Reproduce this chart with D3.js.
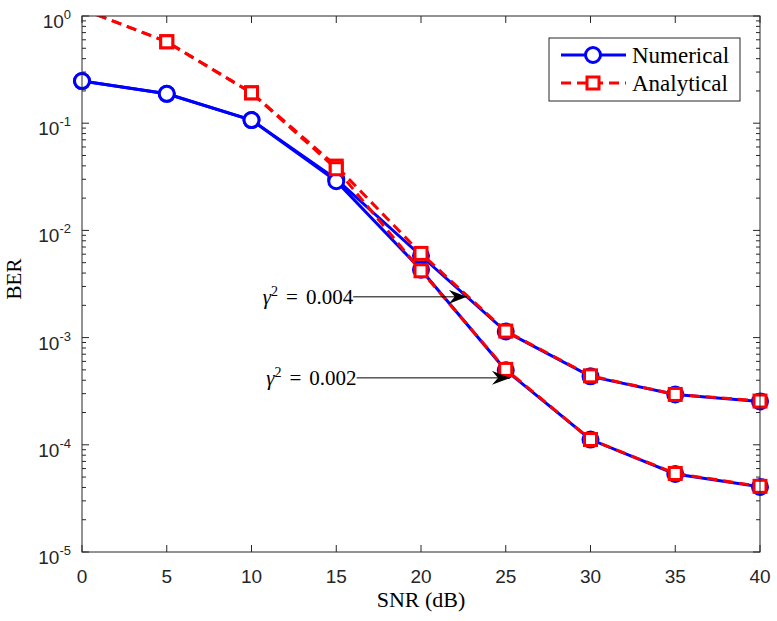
<!DOCTYPE html>
<html>
<head>
<meta charset="utf-8">
<script src="https://cdn.jsdelivr.net/npm/d3@7"></script>
<style>
  body { margin: 0; background: #fff; }
  svg { display: block; }
  .tick-label { font-family: "Liberation Sans", Arial, sans-serif; fill: #262626; }
  .tex { font-family: "Liberation Serif", "Times New Roman", serif; fill: #000; }
</style>
</head>
<body>
<svg id="chart" width="777" height="621"></svg>
<script>
'use strict';

// SNR (dB) sample points
var snr = [0, 5, 10, 15, 20, 25, 30, 35, 40];

// BER, gamma^2 = 0.004
var numerical004 = [0.247, 0.188, 0.107, 0.0301, 0.0058, 0.00114, 0.000435, 0.000295, 0.000254];
var analytical004 = [1.16, 0.575, 0.192, 0.0398, 0.0061, 0.00115, 0.00044, 0.000295, 0.000256];

// BER, gamma^2 = 0.002
var numerical002 = [0.247, 0.188, 0.107, 0.0288, 0.0043, 0.000495, 0.000112, 0.0000535, 0.0000405];
var analytical002 = [1.16, 0.575, 0.192, 0.0376, 0.0042, 0.000505, 0.000112, 0.000054, 0.000041];

var xTicks = [0, 5, 10, 15, 20, 25, 30, 35, 40];
var yExponents = [0, -1, -2, -3, -4, -5];

var legendLabels = ["Numerical", "Analytical"];

// annotations: label value, arrow start/end SNR, BER level
var annoLabels = ["0.004", "0.002"];
var annoX0 = [16.0, 16.2];
var annoX1 = [22.7, 25.25];
var annoY = [0.0024, 0.000421];

var W = 777, H = 621;
var margin = { left: 82, right: 17, top: 16, bottom: 69 };
var pw = W - margin.left - margin.right;
var ph = H - margin.top - margin.bottom;

var BLUE = "#0000ff", RED = "#ff0000", AXIS = "#262626";

var svg = d3.select("#chart");

var x = d3.scaleLinear().domain([0, 40]).range([margin.left, margin.left + pw]);
var y = d3.scaleLog().domain([1e-5, 1]).range([margin.top + ph, margin.top]);

svg.append("defs").append("clipPath").attr("id", "plotClip")
  .append("rect")
  .attr("x", margin.left).attr("y", margin.top)
  .attr("width", pw).attr("height", ph);

svg.select("defs").append("marker")
  .attr("id", "arrowHead")
  .attr("viewBox", "0 0 18 14")
  .attr("refX", 18).attr("refY", 7)
  .attr("markerWidth", 18).attr("markerHeight", 14)
  .attr("markerUnits", "userSpaceOnUse")
  .attr("orient", "auto")
  .append("path")
  .attr("d", "M0,0 L18,7 L0,14 L6,7 Z")
  .attr("fill", "#000");

// white plot background
svg.append("rect")
  .attr("x", margin.left).attr("y", margin.top)
  .attr("width", pw).attr("height", ph)
  .attr("fill", "#fff");

// ---- ticks (inside, both sides) ----
var axisG = svg.append("g");
var majLen = 7, minLen = 4;

xTicks.forEach(function(t) {
  var px = x(t);
  axisG.append("line").attr("x1", px).attr("x2", px)
    .attr("y1", margin.top + ph).attr("y2", margin.top + ph - majLen)
    .attr("stroke", AXIS);
  axisG.append("line").attr("x1", px).attr("x2", px)
    .attr("y1", margin.top).attr("y2", margin.top + majLen)
    .attr("stroke", AXIS);
  axisG.append("text").attr("class", "tick-label")
    .attr("x", px).attr("y", margin.top + ph + 31)
    .attr("text-anchor", "middle")
    .style("font-size", "19px")
    .text(t);
});

yExponents.forEach(function(e) {
  var py = y(Math.pow(10, e));
  axisG.append("line").attr("x1", margin.left).attr("x2", margin.left + majLen)
    .attr("y1", py).attr("y2", py).attr("stroke", AXIS);
  axisG.append("line").attr("x1", margin.left + pw).attr("x2", margin.left + pw - majLen)
    .attr("y1", py).attr("y2", py).attr("stroke", AXIS);

  var t = axisG.append("text").attr("class", "tick-label")
    .attr("x", margin.left - 11).attr("y", py + 12)
    .attr("text-anchor", "end")
    .style("font-size", "19px");
  t.append("tspan").text("10");
  t.append("tspan").attr("dy", -9).style("font-size", "13px")
    .text(e === 0 ? "0" : "-" + (-e));

  if (e > -5) {
    for (var m = 2; m <= 9; m++) {
      var my = y(m * Math.pow(10, e - 1));
      axisG.append("line").attr("x1", margin.left).attr("x2", margin.left + minLen)
        .attr("y1", my).attr("y2", my).attr("stroke", AXIS);
      axisG.append("line").attr("x1", margin.left + pw).attr("x2", margin.left + pw - minLen)
        .attr("y1", my).attr("y2", my).attr("stroke", AXIS);
    }
  }
});

// ---- series ----
var line = d3.line()
  .x(function(d) { return x(d.x); })
  .y(function(d) { return y(d.y); });

function toPts(vals) {
  return vals.map(function(v, i) { return { x: snr[i], y: v }; });
}

var series = [
  { vals: numerical004, color: BLUE, dash: null, marker: "circle" },
  { vals: numerical002, color: BLUE, dash: null, marker: "circle" },
  { vals: analytical004, color: RED, dash: "10,6", marker: "square" },
  { vals: analytical002, color: RED, dash: "10,6", marker: "square" }
];

var plotG = svg.append("g");

function drawMarker(g, kind, cx, cy, color) {
  if (kind === "circle") {
    g.append("circle").attr("cx", cx).attr("cy", cy).attr("r", 7.5)
      .attr("fill", "#fff").attr("stroke", color).attr("stroke-width", 3);
  } else {
    g.append("rect").attr("x", cx - 6).attr("y", cy - 6)
      .attr("width", 12).attr("height", 12)
      .attr("fill", "#fff").attr("stroke", color).attr("stroke-width", 3);
  }
}

series.forEach(function(s) {
  var pts = toPts(s.vals);
  plotG.append("path")
    .datum(pts)
    .attr("d", line)
    .attr("clip-path", "url(#plotClip)")
    .attr("fill", "none")
    .attr("stroke", s.color)
    .attr("stroke-width", 3)
    .attr("stroke-dasharray", s.dash);
  var mg = plotG.append("g");
  pts.filter(function(p) { return p.y <= 1; }).forEach(function(p) {
    drawMarker(mg, s.marker, x(p.x), y(p.y), s.color);
  });
});

// ---- box ----
svg.append("rect")
  .attr("x", margin.left).attr("y", margin.top)
  .attr("width", pw).attr("height", ph)
  .attr("fill", "none").attr("stroke", AXIS).attr("stroke-width", 1);

// ---- annotations ----
annoLabels.forEach(function(lab, i) {
  var py = y(annoY[i]);
  svg.append("line")
    .attr("x1", x(annoX0[i])).attr("x2", x(annoX1[i]))
    .attr("y1", py).attr("y2", py)
    .attr("stroke", "#000").attr("stroke-width", 1)
    .attr("marker-end", "url(#arrowHead)");
  var t = svg.append("text").attr("class", "tex")
    .attr("x", x(annoX0[i])).attr("y", py + 7)
    .attr("text-anchor", "end")
    .style("font-size", "21px");
  t.append("tspan").style("font-style", "italic").text("γ");
  t.append("tspan").attr("dy", -8).style("font-size", "14px").text("2");
  t.append("tspan").attr("dy", 8).attr("dx", 8).text("=");
  t.append("tspan").attr("dx", 8).text(lab);
});

// ---- axis labels ----
svg.append("text").attr("class", "tex")
  .attr("x", margin.left + pw / 2).attr("y", 607)
  .attr("text-anchor", "middle")
  .style("font-size", "22px")
  .text("SNR (dB)");

svg.append("text").attr("class", "tex")
  .attr("transform", "translate(21," + (margin.top + ph / 2 - 5) + ") rotate(-90)")
  .attr("text-anchor", "middle")
  .style("font-size", "21px")
  .text("BER");

// ---- legend ----
var lg = svg.append("g");
lg.append("rect")
  .attr("x", 549).attr("y", 38).attr("width", 191).attr("height", 63)
  .attr("fill", "#fff").attr("stroke", AXIS).attr("stroke-width", 1);

var legendStyle = [
  { color: BLUE, dash: null, marker: "circle" },
  { color: RED, dash: "10,6", marker: "square" }
];

legendLabels.forEach(function(lab, i) {
  var ly = 55 + i * 28;
  var st = legendStyle[i];
  lg.append("line").attr("x1", 561).attr("x2", 626)
    .attr("y1", ly).attr("y2", ly)
    .attr("stroke", st.color).attr("stroke-width", 3)
    .attr("stroke-dasharray", st.dash);
  drawMarker(lg, st.marker, 593, ly, st.color);
  lg.append("text").attr("class", "tex")
    .attr("x", 632).attr("y", ly + 8)
    .style("font-size", "23px")
    .text(lab);
});
</script>
</body>
</html>
